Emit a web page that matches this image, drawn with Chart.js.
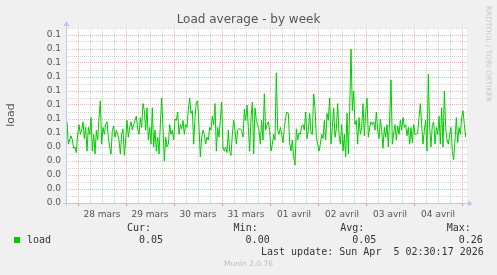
<!DOCTYPE html>
<html>
<head>
<meta charset="utf-8">
<title>Load average - by week</title>
<script src="https://cdn.jsdelivr.net/npm/chart.js@4.4.1/dist/chart.umd.min.js"></script>
<style>
  body { margin: 0; background: #f0f0f0; }
  #wrap { position: relative; width: 497px; height: 275px; overflow: hidden; font-family: 'DejaVu Sans', sans-serif; }
  #c { position: absolute; left: 0; top: 0; }
  .t { position: absolute; white-space: pre; }
  .mono { font-family: 'DejaVu Sans Mono', monospace; font-size: 10px; line-height: 12px; color: #333; }
</style>
</head>
<body>
<div id="wrap">
  <canvas id="c" width="497" height="275"></canvas>
  <div class="t" id="title" style="left:0; width:497px; top:12px; text-align:center; font-size:12px; line-height:14px; color:#555;"></div>
  <div class="t" id="ytitle" style="left:-9.5px; top:107.5px; width:40px; height:14px; text-align:center; font-size:11px; line-height:14px; color:#555; transform:rotate(-90deg);"></div>
  <div class="t" id="brand" style="left:433px; top:48.5px; width:110px; height:10px; text-align:center; font-size:7.5px; line-height:10px; color:#c8c8c8; transform:rotate(90deg);">RRDTOOL / TOBI OETIKER</div>
  <div id="legend"></div>
  <div class="t" style="left:0; width:497px; top:259px; text-align:center; font-size:7.5px; line-height:10px; color:#bbb;">Munin 2.0.76</div>
</div>
<script>
// samples (40 min apart), oldest first
const loadValues = [
  0.058,0.042,0.045,0.048,0.045,0.039,0.040,0.036,0.049,0.056,
  0.049,0.052,0.058,0.046,0.054,0.037,0.054,0.049,0.061,0.037,
  0.049,0.035,0.052,0.045,0.061,0.073,0.042,0.054,0.049,0.056,
  0.058,0.047,0.040,0.035,0.052,0.055,0.047,0.052,0.049,0.045,
  0.035,0.049,0.053,0.034,0.045,0.059,0.047,0.054,0.058,0.052,
  0.056,0.059,0.062,0.053,0.049,0.061,0.054,0.071,0.066,0.052,
  0.068,0.045,0.054,0.042,0.068,0.040,0.052,0.037,0.047,0.035,
  0.056,0.075,0.054,0.030,0.047,0.040,
  0.042,0.056,0.049,0.052,0.045,0.060,0.059,0.065,0.049,0.056,
  0.053,0.059,0.049,0.056,0.054,0.067,0.075,0.064,0.066,0.042,
  0.061,0.072,0.073,0.054,0.033,0.047,0.052,0.049,0.042,0.047,
  0.045,0.054,0.052,0.062,0.056,0.071,0.037,0.054,0.047,0.059,
  0.072,0.040,0.037,0.040,0.036,0.052,0.037,0.034,0.049,0.059,
  0.052,0.042,0.052,0.053,0.053,0.052,0.047,0.067,0.059,0.070,
  0.054,0.037,0.061,0.072,0.035,0.068,0.059,0.056,0.052,0.042,
  0.059,0.045,0.078,0.052,0.056,0.058,
  0.052,0.037,0.042,0.049,0.045,0.093,0.052,0.049,0.054,0.049,
  0.043,0.054,0.061,0.065,0.064,0.043,0.037,0.045,0.033,0.027,
  0.053,0.045,0.050,0.049,0.055,0.056,0.052,0.065,0.046,0.052,
  0.064,0.050,0.049,0.078,0.068,0.047,0.042,0.037,0.042,0.049,
  0.046,0.059,0.045,0.064,0.059,0.075,0.042,0.054,0.068,0.047,
  0.053,0.071,0.049,0.042,0.056,0.037,0.049,0.033,0.064,0.035,
  0.066,0.110,0.066,0.080,0.056,0.059,0.042,0.061,0.049,0.054,
  0.071,0.048,0.064,0.075,0.047,
  0.054,0.058,0.056,0.058,0.052,0.065,0.052,0.046,0.060,0.052,
  0.039,0.054,0.047,0.056,0.040,0.060,0.088,0.042,0.050,0.056,
  0.045,0.055,0.049,0.059,0.052,0.061,0.054,0.056,0.048,0.054,
  0.042,0.054,0.043,0.056,0.049,0.049,0.050,0.061,0.071,0.056,
  0.042,0.052,0.059,0.037,0.092,0.054,0.040,0.056,0.058,0.042,
  0.054,0.049,0.062,0.042,0.068,0.040,0.080,0.054,0.045,0.042,
  0.049,0.054,0.037,0.031,0.045,0.061,0.043,0.054,0.049,0.061,
  0.066,0.056,0.047
];
const stepHours = 2 / 3;
const firstSampleHour = 0.5;
const firstMidnightHour = 6;      // 28 mars 00:00, in hours from the left edge
const spanHours = 200.5;
const dayLabels = ['28 mars', '29 mars', '30 mars', '31 mars', '01 avril', '02 avril', '03 avril', '04 avril'];
const yTickLabels = ['0.0', '0.0', '0.0', '0.0', '0.0', '0.1', '0.1', '0.1', '0.1', '0.1', '0.1', '0.1', '0.1'];
const yMax = 0.125;
const seriesName = 'load';
const statLabels = ['Cur:', 'Min:', 'Avg:', 'Max:'];
const statValues = ['0.05', '0.00', '0.05', '0.26'];
const lastUpdate = 'Last update: Sun Apr  5 02:30:17 2026';

const MAJOR = 'rgba(235,150,150,0.7)';
const MINOR = 'rgba(175,175,175,0.55)';
const AXIS = '#c4c4f0';
const GREEN = '#00cc00';

document.getElementById('title').textContent = 'Load average - by week';
document.getElementById('ytitle').textContent = seriesName;

// legend block under the graph
const legend = document.getElementById('legend');
function put(text, left, top, cls) {
  const d = document.createElement('div');
  d.className = 't ' + cls;
  d.style.left = left + 'px';
  d.style.top = top + 'px';
  d.textContent = text;
  legend.appendChild(d);
}
const sw = document.createElement('div');
sw.style.cssText = 'position:absolute;left:14px;top:237px;width:6px;height:6px;background:' + GREEN;
legend.appendChild(sw);
put(seriesName, 27, 234, 'mono');
statLabels.forEach((s, i) => {
  put(s, 127 + i * 106.6, 222, 'mono');
  put(statValues[i], 139 + i * 106.6, 234, 'mono');
});
put(lastUpdate, 261, 246, 'mono');

const points = loadValues.map((v, i) => ({ x: firstSampleHour + i * stepHours, y: v }));

const muninFrame = {
  id: 'muninFrame',
  beforeDraw(chart) {
    const { ctx, chartArea: a } = chart;
    ctx.save();
    ctx.fillStyle = '#ffffff';
    ctx.fillRect(a.left, a.top, a.right - a.left, a.bottom - a.top);
    ctx.restore();
  },
  afterDatasetsDraw(chart) {
    const { ctx, chartArea: a } = chart;
    ctx.save();
    ctx.strokeStyle = AXIS;
    ctx.fillStyle = AXIS;
    ctx.lineWidth = 1;
    ctx.beginPath();
    ctx.moveTo(a.left + 0.5, a.bottom + 3);
    ctx.lineTo(a.left + 0.5, a.top - 2);
    ctx.moveTo(a.left - 3, a.bottom + 0.5);
    ctx.lineTo(a.right + 1, a.bottom + 0.5);
    ctx.stroke();
    ctx.beginPath();
    ctx.moveTo(a.left - 2.5, a.top - 2);
    ctx.lineTo(a.left + 3.5, a.top - 2);
    ctx.lineTo(a.left + 0.5, a.top - 7);
    ctx.closePath();
    ctx.fill();
    ctx.beginPath();
    ctx.moveTo(a.right + 1, a.bottom - 2.5);
    ctx.lineTo(a.right + 1, a.bottom + 3.5);
    ctx.lineTo(a.right + 6, a.bottom + 0.5);
    ctx.closePath();
    ctx.fill();
    ctx.restore();
  }
};

function hourOfDay(v) {
  return ((v - firstMidnightHour) % 24 + 24) % 24;
}

new Chart(document.getElementById('c'), {
  type: 'line',
  data: {
    datasets: [{
      label: seriesName,
      data: points,
      borderColor: GREEN,
      borderWidth: 1,
      pointRadius: 0,
      tension: 0,
      fill: false
    }]
  },
  options: {
    responsive: false,
    animation: false,
    devicePixelRatio: 1,
    layout: { padding: { left: 0, right: 30, top: 28, bottom: 0 } },
    plugins: { legend: { display: false }, tooltip: { enabled: false }, title: { display: false } },
    scales: {
      x: {
        type: 'linear',
        min: 0,
        max: spanHours,
        afterBuildTicks(scale) {
          const t = [];
          for (let h = firstMidnightHour; h <= spanHours; h += 6) t.push({ value: h });
          scale.ticks = t;
        },
        afterFit(scale) { scale.height = 72; },
        ticks: {
          autoSkip: false,
          maxRotation: 0,
          padding: 3,
          color: '#555',
          font: { family: 'DejaVu Sans', size: 9 },
          callback(v) {
            const d = v - firstMidnightHour;
            if (hourOfDay(v) === 12) return dayLabels[Math.round((d - 12) / 24)] || '';
            return '';
          }
        },
        grid: {
          color: ctx => hourOfDay(ctx.tick.value) === 0 ? MAJOR : MINOR,
          tickColor: ctx => hourOfDay(ctx.tick.value) === 0 ? 'rgba(235,110,110,0.85)' : 'rgba(0,0,0,0)',
          tickLength: 3,
          lineWidth: 1
        },
        border: { display: false, dash: [1, 1] }
      },
      y: {
        min: 0,
        max: yMax,
        afterBuildTicks(scale) {
          const t = [];
          for (let k = 0; k <= 25; k++) t.push({ value: k * 0.005 });
          scale.ticks = t;
        },
        afterFit(scale) { scale.width = 66; },
        ticks: {
          autoSkip: false,
          padding: 5,
          color: '#555',
          font: { family: 'DejaVu Sans', size: 9 },
          callback(v, i) { return i % 2 === 0 ? (yTickLabels[i / 2] || '') : ''; }
        },
        grid: {
          color: ctx => ctx.index % 2 === 0 ? MAJOR : MINOR,
          drawTicks: false,
          lineWidth: 1
        },
        border: { display: false, dash: [1, 1] }
      }
    }
  },
  plugins: [muninFrame]
});
</script>
</body>
</html>
